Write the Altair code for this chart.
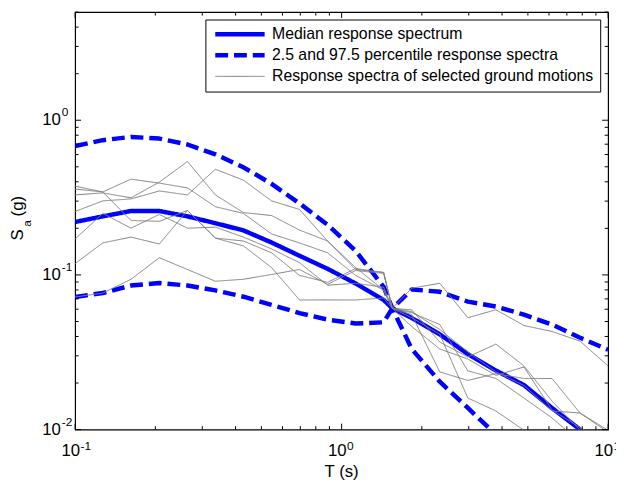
import altair as alt
import pandas as pd

FONT = "Liberation Sans"

# ---- data -----------------------------------------------------------------
# periods (s): 20 log-spaced periods plus the conditioning period where all curves meet
periods = [0.1, 0.127, 0.162, 0.207, 0.264, 0.336, 0.428, 0.546, 0.695, 0.886,
           1.129, 1.438, 1.55, 1.833, 2.336, 2.976, 3.793, 4.833, 6.158, 7.848, 10.0]

median = [0.220, 0.239, 0.259, 0.259, 0.239, 0.216, 0.194, 0.162, 0.133, 0.1095,
          0.088, 0.0689, 0.0608, 0.0527, 0.0413, 0.0308, 0.0241, 0.0194, 0.0138, 0.0100, None]

# percentile curve that starts high and ends low
pct_a = [0.681, 0.743, 0.780, 0.761, 0.697, 0.602, 0.496, 0.388, 0.290, 0.211,
         0.143, 0.0837, 0.0608, 0.0332, 0.0204, 0.0138, 0.0093, None, None, None, None]
# percentile curve that starts low and ends high
pct_b = [0.0720, 0.0764, 0.0854, 0.0887, 0.0854, 0.0794, 0.0723, 0.0640, 0.0567, 0.0514,
         0.0485, 0.0494, 0.0608, 0.0805, 0.0778, 0.0672, 0.0625, 0.0553, 0.0478, 0.0393, 0.0328]

gm1 = [0.375, 0.344, 0.225, 0.222, 0.261, 0.173, 0.154, 0.1116, 0.0689, 0.0689,
       0.0689, 0.0709, 0.0608, 0.0569, 0.0478, 0.0240, 0.0214, 0.0160, 0.0119, 0.0083, 0.0066]
gm2 = [0.329, 0.339, 0.315, 0.398, 0.541, 0.329, 0.253, 0.242, 0.195, 0.1656,
       0.1084, 0.1037, 0.0608, 0.0553, 0.0236, 0.0208, 0.0230, 0.0214, 0.0214, 0.0128, 0.0096]
gm3 = [0.359, 0.344, 0.416, 0.392, 0.365, 0.276, 0.250, 0.184, 0.161, 0.139,
       0.0993, 0.0797, 0.0608, 0.0595, 0.0368, 0.0295, 0.0357, 0.0258, 0.0153, 0.0099, 0.0077]
gm4 = [0.257, 0.301, 0.310, 0.349, 0.329, 0.482, 0.410, 0.301, 0.265, 0.1656,
       0.1116, 0.0797, 0.0608, 0.0529, 0.0413, 0.0160, 0.0132, 0.0099, 0.0083, 0.0072, 0.0061]
gm5 = [0.1705, 0.250, 0.2006, 0.246, 0.2006, 0.2036, 0.1756, 0.1473, 0.120, 0.0858,
       0.0883, 0.0833, 0.0608, 0.0464, 0.0332, 0.0286, 0.0224, 0.0254, 0.0134, 0.0103, 0.0083]
gm6 = [0.1183, 0.161, 0.1756, 0.1585, 0.261, 0.173, 0.1656, 0.139, 0.0993, 0.0896,
       0.110, 0.1037, 0.0608, 0.0821, 0.0883, 0.0529, 0.0595, 0.0471, 0.0431, 0.0373, 0.0258]
gm7 = [0.0720, 0.0763, 0.0937, 0.1292, 0.1084, 0.0910, 0.0937, 0.1007, 0.1084, 0.0870,
       0.1068, 0.1022, 0.0608, 0.0578, 0.0444, 0.0318, 0.0236, 0.0193, 0.0132, 0.0128, 0.0099]

MED = "Median response spectrum"
PCT = "2.5 and 97.5 percentile response spectra"
GM = "Response spectra of selected ground motions"
series_order = [MED, PCT, GM]

x_major = [0.1, 1.0, 10.0]
x_minor = [0.2, 0.3, 0.4, 0.5, 0.6, 0.7, 0.8, 0.9, 2, 3, 4, 5, 6, 7, 8, 9]
x_exp = ["-1", "0", "1"]
y_major = [0.01, 0.1, 1.0]
y_minor = [0.02, 0.03, 0.04, 0.05, 0.06, 0.07, 0.08, 0.09,
           0.2, 0.3, 0.4, 0.5, 0.6, 0.7, 0.8, 0.9, 2, 3, 4, 5]
y_exp = ["-2", "-1", "0"]

# ---- tables ----------------------------------------------------------------
def long_rows(series, curve, vals):
    return [{"T": t, "Sa": v, "series": series, "curve": curve}
            for t, v in zip(periods, vals) if v is not None]

df_med = pd.DataFrame(long_rows(MED, "med", median))
df_pct = pd.DataFrame(long_rows(PCT, "pa", pct_a) + long_rows(PCT, "pb", pct_b))
gm_rows = []
for i, g in enumerate([gm1, gm2, gm3, gm4, gm5, gm6, gm7]):
    gm_rows += long_rows(GM, f"gm{i+1}", g)
df_gm = pd.DataFrame(gm_rows)

W, H = 540, 423
xs = alt.Scale(type="log", domain=[0.1, 10], nice=False)
ys = alt.Scale(type="log", domain=[0.01, 5], nice=False)

style = dict(
    color=alt.Color("series:N", scale=alt.Scale(domain=series_order,
                    range=["#0000ff", "#0000ff", "#808080"]), legend=alt.Legend(title=None)),
    strokeDash=alt.StrokeDash("series:N", scale=alt.Scale(domain=series_order,
                    range=[[1, 0], [13, 6], [1, 0]]), legend=alt.Legend(title=None)),
    strokeWidth=alt.StrokeWidth("series:N", scale=alt.Scale(type="ordinal", domain=series_order,
                    range=[4.5, 4.5, 1.0]), legend=alt.Legend(title=None)),
    detail="curve:N",
)

med_layer = alt.Chart(df_med).mark_line(clip=True, strokeJoin="round").encode(
    x=alt.X("T:Q", scale=xs, axis=None),
    y=alt.Y("Sa:Q", scale=ys, axis=None), **style)
pct_layer = alt.Chart(df_pct).mark_line(clip=True, strokeJoin="round").encode(
    x=alt.X("T:Q", scale=xs, axis=None),
    y=alt.Y("Sa:Q", scale=ys, axis=None), **style)
gm_layer = alt.Chart(df_gm).mark_line(clip=True, strokeJoin="round").encode(
    x=alt.X("T:Q", scale=xs, axis=None),
    y=alt.Y("Sa:Q", scale=ys, axis=None), **style)

# ---- inward ticks on all four sides ---------------------------------------
def x_ticks(vals, length):
    d = pd.DataFrame({"T": vals})
    out = []
    for y0, y1 in [(H, H - length), (0, length)]:
        out.append(alt.Chart(d).mark_rule(color="black", strokeWidth=1).encode(
            x=alt.X("T:Q", scale=xs, axis=None), y=alt.value(y0), y2=alt.value(y1)))
    return out

def y_ticks(vals, length):
    d = pd.DataFrame({"Sa": vals})
    out = []
    for x0, x1 in [(0, length), (W, W - length)]:
        out.append(alt.Chart(d).mark_rule(color="black", strokeWidth=1).encode(
            y=alt.Y("Sa:Q", scale=ys, axis=None), x=alt.value(x0), x2=alt.value(x1)))
    return out

tick_layers = x_ticks(x_major, 6) + x_ticks(x_minor, 3.5) + y_ticks(y_major, 6) + y_ticks(y_minor, 3.5)

# ---- tick labels with superscripts ----------------------------------------
xlab = pd.DataFrame({"T": x_major, "base": ["10"] * 3, "exp": x_exp})
ylab = pd.DataFrame({"Sa": y_major, "base": ["10"] * 3, "exp": y_exp})

xl_base = alt.Chart(xlab).mark_text(font=FONT, fontSize=17, align="right", baseline="middle",
                                    dx=5, color="black").encode(
    x=alt.X("T:Q", scale=xs, axis=None), y=alt.value(H + 22), text="base:N")
xl_exp = alt.Chart(xlab).mark_text(font=FONT, fontSize=12, align="left", baseline="middle",
                                   dx=5.5, color="black").encode(
    x=alt.X("T:Q", scale=xs, axis=None), y=alt.value(H + 17), text="exp:N")
yl_base = alt.Chart(ylab).mark_text(font=FONT, fontSize=17, align="right", baseline="middle",
                                    color="black").encode(
    y=alt.Y("Sa:Q", scale=ys, axis=None), x=alt.value(-14.5), text="base:N")
yl_exp = alt.Chart(ylab).mark_text(font=FONT, fontSize=12, align="left", baseline="middle",
                                   dy=-8, color="black").encode(
    y=alt.Y("Sa:Q", scale=ys, axis=None), x=alt.value(-13.5), text="exp:N")

# ---- axis titles -----------------------------------------------------------
one = pd.DataFrame({"k": [0]})
xt = alt.Chart(one).mark_text(text="T (s)", font=FONT, fontSize=17, align="center",
                              baseline="alphabetic", color="black").encode(
    x=alt.value(W / 2), y=alt.value(H + 48))
yt_s = alt.Chart(one).mark_text(text="S", font=FONT, fontSize=17, angle=270, align="left",
                                baseline="alphabetic", color="black").encode(
    x=alt.value(-53), y=alt.value(231.5))
yt_a = alt.Chart(one).mark_text(text="a", font=FONT, fontSize=12, angle=270, align="left",
                                baseline="alphabetic", color="black").encode(
    x=alt.value(-44.5), y=alt.value(217.5))
yt_g = alt.Chart(one).mark_text(text="(g)", font=FONT, fontSize=17, angle=270, align="left",
                                baseline="alphabetic", color="black").encode(
    x=alt.value(-53), y=alt.value(207))

chart = alt.layer(
    med_layer, pct_layer, gm_layer, *tick_layers,
    xl_base, xl_exp, yl_base, yl_exp, xt, yt_s, yt_a, yt_g,
).properties(
    width=W, height=H,
    autosize=alt.AutoSizeParams(type="none"),
    padding={"left": 68, "top": 1, "right": 8, "bottom": 56},
).configure(font=FONT).configure_view(
    stroke="black", strokeWidth=1.2
).configure_legend(
    orient="none", legendX=132, legendY=7.5,
    strokeColor="black", fillColor="white", padding=6, cornerRadius=0,
    symbolType="stroke", symbolSize=2500, symbolOffset=1.5, clipHeight=18,
    labelFont=FONT, labelFontSize=16, labelColor="black", labelOffset=5,
    rowPadding=3.3, labelLimit=500,
)

chart.save("out.html", embed_options={"renderer": "svg", "actions": False})
